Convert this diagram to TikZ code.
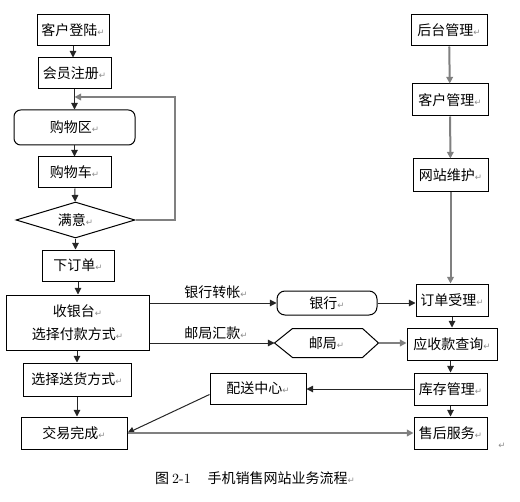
\documentclass[tikz,border=0pt]{standalone}
\usepackage{fontspec}
\newfontfamily\cjk{Noto Sans CJK SC}
\newfontfamily\symf{DejaVu Sans}
\usetikzlibrary{arrows.meta,shapes.geometric}

\newcommand{\parmk}{{\color{black!45}\symf\fontsize{6.5}{7}\selectfont ↵}}

\tikzset{every picture/.style={line width=0.75pt}}
\tikzset{
  box/.style={draw, inner sep=0pt, font=\cjk\fontsize{10.5}{12}\selectfont},
  txt/.style={inner sep=0pt, font=\cjk\fontsize{10.5}{12}\selectfont},
  sz/.style 2 args={minimum width=#1*0.75pt, minimum height=#2*0.75pt},
  arr/.style={-{Triangle[length=5pt,width=5pt]}, draw=black!85},
  garr/.style={-{Triangle[length=5pt,width=5pt]}, draw=black!50, line width=1.5pt},
}

\begin{document}
\begin{tikzpicture}[x=0.75pt,y=0.75pt,yscale=-1]
\useasboundingbox (0,0) rectangle (520,502);

%Shape: Rectangle (left column)
\node [box, sz={72}{31}] (login) at (73,30.5) {客户登陆\parmk};
\node [box, sz={73}{31}] (reg) at (74.5,73.5) {会员注册\parmk};
\node [box, rounded corners=5pt, sz={121}{35}] (shop) at (74.5,127.5) {购物区\parmk};
\node [box, sz={73}{31}] (cart) at (74.5,172.5) {购物车\parmk};
\node [box, diamond, aspect=3.3, sz={119}{36}] (ok) at (75.5,220) {满意\parmk};
\node [box, sz={72}{31}] (order) at (78,265.5) {下订单\parmk};
\node [box, sz={143}{55}, align=center] (pay) at (77.5,322.5) {收银台\parmk\\[5pt]选择付款方式\parmk};
\node [box, sz={108}{33}] (ship) at (77,379.5) {选择送货方式\parmk};
\node [box, sz={106}{32}] (done) at (74,433) {交易完成\parmk};

%Shape: Rectangle (right column)
\node [box, sz={76}{31}] (backend) at (449,30.5) {后台管理\parmk};
\node [box, sz={76}{32}] (cust) at (450,100) {客户管理\parmk};
\node [box, sz={75}{33}] (site) at (450.5,175.5) {网站维护\parmk};
\node [box, sz={72}{32}] (recv) at (452,300) {订单受理\parmk};
\node [box, sz={90}{32}] (query) at (452,344) {应收款查询\parmk};
\node [box, sz={73}{32}] (stock) at (450.5,389) {库存管理\parmk};
\node [box, sz={73}{32}] (after) at (450.5,433) {售后服务\parmk};

%Shape: middle
\node [box, rounded corners=6pt, sz={100}{24}] (bank) at (327,303) {银行\parmk};
\node [txt, sz={103}{28}] (post) at (326.5,343) {邮局\parmk};
\draw (post.west) -- ([xshift=13.5pt]post.north west) -- ([xshift=-12pt]post.north east) -- (post.east)
  -- ([xshift=-12pt]post.south east) -- ([xshift=13.5pt]post.south west) -- cycle;
\node [box, sz={96}{31}] (dist) at (258,388.5) {配送中心\parmk};

% Text Node
\node [txt] (banklbl) at (216,292) {银行转帐\parmk};
\node [txt] (postlbl) at (216,333) {邮局汇款\parmk};
\node [txt] (endmk) at (502,446) {\parmk};
\node [txt] (caption) at (255,478) {图 {\rmfamily 2-1}\hspace{1.2em}手机销售网站业务流程\parmk};

%Straight Lines (left column)
\coordinate (loopin) at (74.5,97);
\draw [arr] (login) -- (login |- reg.north);
\draw [arr] (reg) -- (shop);
\draw [garr] (ok.east) -- ++(39,0) |- (loopin);
\draw [arr] (shop) -- (cart);
\draw [arr] (cart) -- (ok);
\draw [arr] (ok) -- (ok |- order.north);
\draw [arr] (order) -- (order |- pay.north);
\draw [arr] (ship |- pay.south) -- (ship);
\draw [arr] (ship) -- (ship |- done.north);

%Straight Lines (right column)
\draw [garr] (backend) -- (cust);
\draw [garr] (cust) -- (site);
\draw [garr] (site) -- (site |- recv.north);
\draw [arr] (recv) -- (recv |- query.north);
\draw [arr] (stock |- query.south) -- (stock);
\draw [arr] (stock) -- (after);

%Straight Lines (across)
\draw [arr] (pay.east |- bank.west) -- (bank.west);
\draw [arr] (bank.east) -- (recv.west |- bank.east);
\draw [arr] (pay.east |- post.west) -- (post.west);
\draw [garr] (post.east) -- (query.west |- post.east);
\draw [arr] (stock.west) -- (dist.east |- stock.west);
\draw [arr] ([yshift=4.5pt]dist.west) -- (done.east);
\draw [garr] (done.east) -- (after.west);

\end{tikzpicture}
\end{document}
